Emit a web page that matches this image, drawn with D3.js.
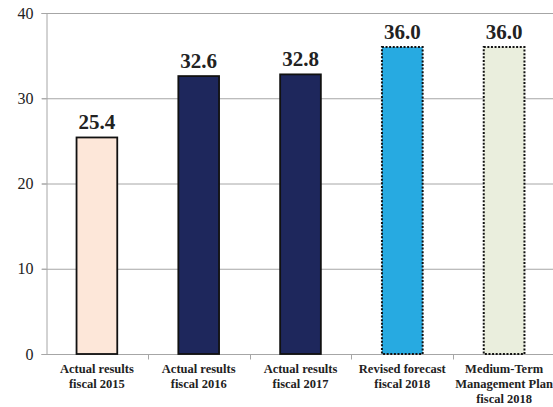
<!DOCTYPE html>
<html>
<head>
<meta charset="utf-8">
<script src="https://cdn.jsdelivr.net/npm/d3@7/dist/d3.min.js"></script>
<style>
  html, body { margin: 0; padding: 0; background: #fff; }
  svg { display: block; }
</style>
</head>
<body>
<script>
// Operating figures by period
const categories = [
  ["Actual results", "fiscal 2015"],
  ["Actual results", "fiscal 2016"],
  ["Actual results", "fiscal 2017"],
  ["Revised forecast", "fiscal 2018"],
  ["Medium-Term", "Management Plan", "fiscal 2018"]
];
const values = [25.4, 32.6, 32.8, 36.0, 36.0];
const yTicks = [0, 10, 20, 30, 40];
const fills = ["#fde7d9", "#1e275c", "#1e275c", "#27aae1", "#eaeedd"];
const dotted = [false, false, false, true, true];

const W = 553, H = 407;
const margin = { left: 46, right: -2, top: 13, bottom: 53 };

const svg = d3.select("body").append("svg")
  .attr("width", W).attr("height", H);

const x = d3.scaleBand()
  .domain(d3.range(categories.length))
  .range([margin.left, W - margin.right])
  .paddingInner(0.6)
  .paddingOuter(0.3);

const y = d3.scaleLinear()
  .domain([0, 40])
  .range([H - margin.bottom, margin.top]);

// horizontal gridlines
svg.append("g")
  .selectAll("line")
  .data(yTicks.filter(d => d > 0))
  .join("line")
  .attr("x1", margin.left - 4)
  .attr("x2", W)
  .attr("y1", d => y(d) + 0.5)
  .attr("y2", d => y(d) + 0.5)
  .attr("stroke", "#a6a6a6")
  .attr("stroke-width", 1);

// y axis
const yAxis = svg.append("g")
  .attr("transform", `translate(${margin.left + 0.5},0)`)
  .call(d3.axisLeft(y).tickValues(yTicks).tickSize(5).tickPadding(8));
yAxis.select(".domain").attr("stroke", "#a6a6a6");
yAxis.selectAll(".tick line").attr("stroke", "#a6a6a6");
yAxis.selectAll(".tick text")
  .attr("font-family", "'Liberation Serif', 'Times New Roman', serif")
  .attr("font-size", 16)
  .attr("fill", "#222");

// x axis baseline with category separator ticks
const base = y(0) + 0.5;
svg.append("line")
  .attr("x1", margin.left - 4).attr("x2", W)
  .attr("y1", base).attr("y2", base)
  .attr("stroke", "#a6a6a6");
const step = x.step();
const bandStart = x.range()[0];
svg.append("g")
  .selectAll("line")
  .data(d3.range(1, categories.length))
  .join("line")
  .attr("x1", i => Math.round(bandStart + i * (W - margin.right - bandStart) / categories.length) + 0.5)
  .attr("x2", i => Math.round(bandStart + i * (W - margin.right - bandStart) / categories.length) + 0.5)
  .attr("y1", base).attr("y2", base + 5)
  .attr("stroke", "#a6a6a6");

// bars
svg.append("g")
  .selectAll("rect")
  .data(values)
  .join("rect")
  .attr("x", (d, i) => x(i))
  .attr("y", d => y(d))
  .attr("width", x.bandwidth())
  .attr("height", d => y(0) - y(d))
  .attr("fill", (d, i) => fills[i])
  .attr("stroke", "#111")
  .attr("stroke-width", (d, i) => dotted[i] ? 2 : 1.8)
  .attr("stroke-dasharray", (d, i) => dotted[i] ? "2,1.6" : null);

// value labels
svg.append("g")
  .selectAll("text")
  .data(values)
  .join("text")
  .attr("x", (d, i) => x(i) + x.bandwidth() / 2)
  .attr("y", d => y(d) - 8)
  .attr("text-anchor", "middle")
  .attr("font-family", "'Liberation Serif', 'Times New Roman', serif")
  .attr("font-weight", "bold")
  .attr("font-size", 21)
  .attr("fill", "#222")
  .text(d => d.toFixed(1));

// category labels
const cat = svg.append("g")
  .selectAll("text")
  .data(categories)
  .join("text")
  .attr("x", (d, i) => x(i) + x.bandwidth() / 2)
  .attr("y", 373)
  .attr("text-anchor", "middle")
  .attr("font-family", "'Liberation Serif', 'Times New Roman', serif")
  .attr("font-weight", "bold")
  .attr("font-size", 12.5)
  .attr("fill", "#222");
cat.selectAll("tspan")
  .data(d => d)
  .join("tspan")
  .attr("x", function () { return d3.select(this.parentNode).attr("x"); })
  .attr("dy", (d, j) => j === 0 ? 0 : 15)
  .text(d => d);
</script>
</body>
</html>
